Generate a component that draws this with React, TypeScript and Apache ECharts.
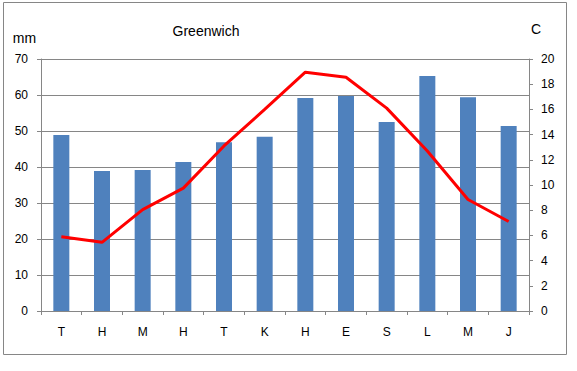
import React, { useEffect, useRef } from "react";
import * as echarts from "echarts";

const categories = ["T", "H", "M", "H", "T", "K", "H", "E", "S", "L", "M", "J"];
const precipitation = [48.9, 38.9, 39.2, 41.4, 46.9, 48.4, 59.2, 59.7, 52.5, 65.3, 59.4, 51.4];
const temperature = [5.9, 5.45, 8.05, 9.75, 13.1, 16.0, 18.95, 18.55, 16.1, 12.7, 8.85, 7.1];
const titleText = "Greenwich";
const leftUnit = "mm";
const rightUnit = "C";

const FONT = "'Liberation Sans', Arial, sans-serif";
const AXIS_GRAY = "#868686";

export default function App() {
  const ref = useRef<HTMLDivElement>(null);
  useEffect(() => {
    if (!ref.current) return;
    const chart = echarts.init(ref.current, undefined, { renderer: "svg" });
    chart.setOption({
      animation: false,
      backgroundColor: "#ffffff",
      textStyle: { fontFamily: FONT },
      grid: { left: 41, right: 48, top: 59, bottom: 60, containLabel: false },
      graphic: [
        {
          type: "rect",
          shape: { x: 3.5, y: 2.5, width: 563, height: 352 },
          style: { fill: "none", stroke: AXIS_GRAY, lineWidth: 1 },
          silent: true,
        },
        {
          type: "text",
          x: 206,
          y: 31,
          style: { text: titleText, fontSize: 14, fontFamily: FONT, fill: "#000", align: "center", verticalAlign: "middle" },
        },
        {
          type: "text",
          x: 24.5,
          y: 38,
          style: { text: leftUnit, fontSize: 14, fontFamily: FONT, fill: "#000", align: "center", verticalAlign: "middle" },
        },
        {
          type: "text",
          x: 536,
          y: 29,
          style: { text: rightUnit, fontSize: 14, fontFamily: FONT, fill: "#000", align: "center", verticalAlign: "middle" },
        },
      ],
      xAxis: {
        type: "category",
        data: categories,
        boundaryGap: true,
        axisLine: { show: true, lineStyle: { color: AXIS_GRAY, width: 1 } },
        axisTick: { show: true, length: 4, lineStyle: { color: AXIS_GRAY } },
        axisLabel: { color: "#000", fontSize: 12, fontFamily: FONT, margin: 15 },
        splitLine: { show: false },
      },
      yAxis: [
        {
          type: "value",
          min: 0,
          max: 70,
          interval: 10,
          position: "left",
          axisLine: { show: true, lineStyle: { color: AXIS_GRAY, width: 1 } },
          axisTick: { show: true, length: 4, lineStyle: { color: AXIS_GRAY } },
          axisLabel: { color: "#000", fontSize: 12, fontFamily: FONT, margin: 13 },
          splitLine: { show: true, lineStyle: { color: AXIS_GRAY, width: 1 } },
        },
        {
          type: "value",
          min: 0,
          max: 20,
          interval: 2,
          position: "right",
          axisLine: { show: true, lineStyle: { color: AXIS_GRAY, width: 1 } },
          axisTick: { show: true, length: 4, lineStyle: { color: AXIS_GRAY } },
          axisLabel: { color: "#000", fontSize: 12, fontFamily: FONT, margin: 12 },
          splitLine: { show: false },
        },
      ],
      series: [
        {
          type: "bar",
          yAxisIndex: 0,
          data: precipitation,
          barWidth: 16,
          itemStyle: { color: "#4F81BD" },
        },
        {
          type: "line",
          yAxisIndex: 1,
          data: temperature,
          showSymbol: false,
          symbol: "none",
          lineStyle: { color: "#FF0000", width: 3 },
          z: 5,
        },
      ],
    });
    return () => chart.dispose();
  }, []);
  return (
    <div
      ref={ref}
      style={{ position: "absolute", left: 0, top: 0, width: 577, height: 371 }}
    />
  );
}
